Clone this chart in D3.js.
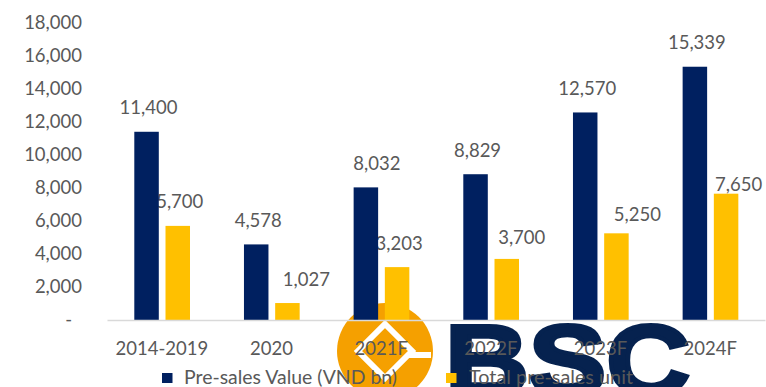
<!DOCTYPE html>
<html>
<head>
<meta charset="utf-8">
<script src="https://cdn.jsdelivr.net/npm/d3@7/dist/d3.min.js"></script>
<style>
  html, body { margin: 0; padding: 0; background: #ffffff; }
  svg { display: block; }
  text { font-family: Lato, "Open Sans", sans-serif; fill: #595959; }
</style>
</head>
<body>
<svg id="chart" width="766" height="387"></svg>
<script>
// Pre-sales outlook by year
const categories = ["2014-2019", "2020", "2021F", "2022F", "2023F", "2024F"];
const presalesValue = [11400, 4578, 8032, 8829, 12570, 15339];   // VND bn
const presalesUnits = [5700, 1027, 3203, 3700, 5250, 7650];      // units
const yTicks = [0, 2000, 4000, 6000, 8000, 10000, 12000, 14000, 16000, 18000];
const seriesNames = ["Pre-sales Value (VND bn)", "Total pre-sales unit"];
const seriesColors = ["#002060", "#FFC000"];

// hand-placed label nudges (dx, dy) where labels were moved off the default spot
const valueLabelNudge = [[0, 0], [0, 0], [9, 0], [0, 0], [0, 0], [0, 0]];
const unitLabelNudge = [[0, 0], [17, 0], [0, 0], [13, 3], [19, 5], [10.5, 14.7]];

const svg = d3.select("#chart");
const fontSize = 18.5;

const x = d3.scaleBand().domain(categories).range([107, 765]);
const xs = d3.scaleBand().domain([0, 1]).range([27.3, 83]).paddingInner(0.215);
const y = d3.scaleLinear().domain([0, 18000]).range([320, 22.8]);

// --- company mark (behind the chart) ---
const logo = svg.append("g").attr("class", "logo");
const cx = 385, cy = 351, r = 48;
logo.append("circle").attr("cx", cx).attr("cy", cy).attr("r", r).attr("fill", "#F5A000");
const dR = 27;
logo.append("rect")
  .attr("x", cx + dR - 4).attr("y", cy + 1).attr("width", r - dR + 2).attr("height", 6)
  .attr("fill", "#ffffff");
logo.append("path")
  .attr("d", `M${cx},${cy - dR} L${cx + dR},${cy} L${cx},${cy + dR} L${cx - dR},${cy} Z`)
  .attr("fill", "#F5A000").attr("stroke", "#ffffff").attr("stroke-width", 6)
  .attr("stroke-linejoin", "miter");
logo.append("text")
  .attr("x", 445).attr("y", 395)
  .attr("textLength", 245).attr("lengthAdjust", "spacingAndGlyphs")
  .style("font-family", "'Liberation Sans', Arial, sans-serif")
  .style("font-weight", "bold").style("font-size", "100px")
  .style("fill", "#06224F").attr("stroke", "#06224F").attr("stroke-width", 4)
  .text("BSC");

// --- data ---
const rows = categories.map((c, i) => ({
  cat: c,
  vals: [
    { s: 0, v: presalesValue[i], nudge: valueLabelNudge[i] },
    { s: 1, v: presalesUnits[i], nudge: unitLabelNudge[i] }
  ]
}));

const groups = svg.append("g").selectAll("g")
  .data(rows).join("g")
  .attr("transform", d => `translate(${x(d.cat)},0)`);

// value labels (sit beneath the bars)
groups.selectAll("text.val")
  .data(d => d.vals).join("text")
  .attr("class", "val")
  .attr("x", d => xs(d.s) + xs.bandwidth() / 2 + 2 + d.nudge[0])
  .attr("y", d => y(d.v) - 17.5 + d.nudge[1])
  .attr("text-anchor", "middle")
  .style("font-size", fontSize + "px")
  .text(d => d3.format(",")(d.v));

// bars
groups.selectAll("rect.bar")
  .data(d => d.vals).join("rect")
  .attr("class", "bar")
  .attr("x", d => xs(d.s))
  .attr("y", d => y(d.v))
  .attr("width", xs.bandwidth())
  .attr("height", d => y(0) - y(d.v))
  .attr("fill", d => seriesColors[d.s]);

// y axis
const yAxis = svg.append("g")
  .attr("transform", "translate(82,0)")
  .call(d3.axisLeft(y).tickValues(yTicks).tickSize(0).tickPadding(0)
    .tickFormat(d => d === 0 ? "-" : d3.format(",")(d)));
yAxis.select(".domain").remove();
yAxis.selectAll("text")
  .style("font-family", null).style("font-size", fontSize + "px")
  .attr("fill", null)
  .attr("dx", d => d === 0 ? -10 : 0);

// x axis
const xAxis = svg.append("g")
  .attr("transform", `translate(0,${y(0)})`)
  .call(d3.axisBottom(x).tickSize(0).tickPadding(22));
xAxis.select(".domain").attr("stroke", "#D9D9D9").attr("stroke-width", 1.5);
xAxis.selectAll("text")
  .style("font-family", null).style("font-size", fontSize + "px")
  .attr("fill", null);

// legend
const legendItems = [{ x: 162, tx: 184, w: 213 }, { x: 446, tx: 469, w: 164 }];
const legend = svg.append("g").selectAll("g")
  .data(seriesNames).join("g");
legend.append("rect")
  .attr("x", (d, i) => legendItems[i].x).attr("y", 373)
  .attr("width", 10.5).attr("height", 10)
  .attr("fill", (d, i) => seriesColors[i]);
legend.append("text")
  .attr("x", (d, i) => legendItems[i].tx).attr("y", 383.5)
  .attr("textLength", (d, i) => legendItems[i].w)
  .attr("lengthAdjust", "spacingAndGlyphs")
  .style("font-size", fontSize + "px")
  .text(d => d);
</script>
</body>
</html>
